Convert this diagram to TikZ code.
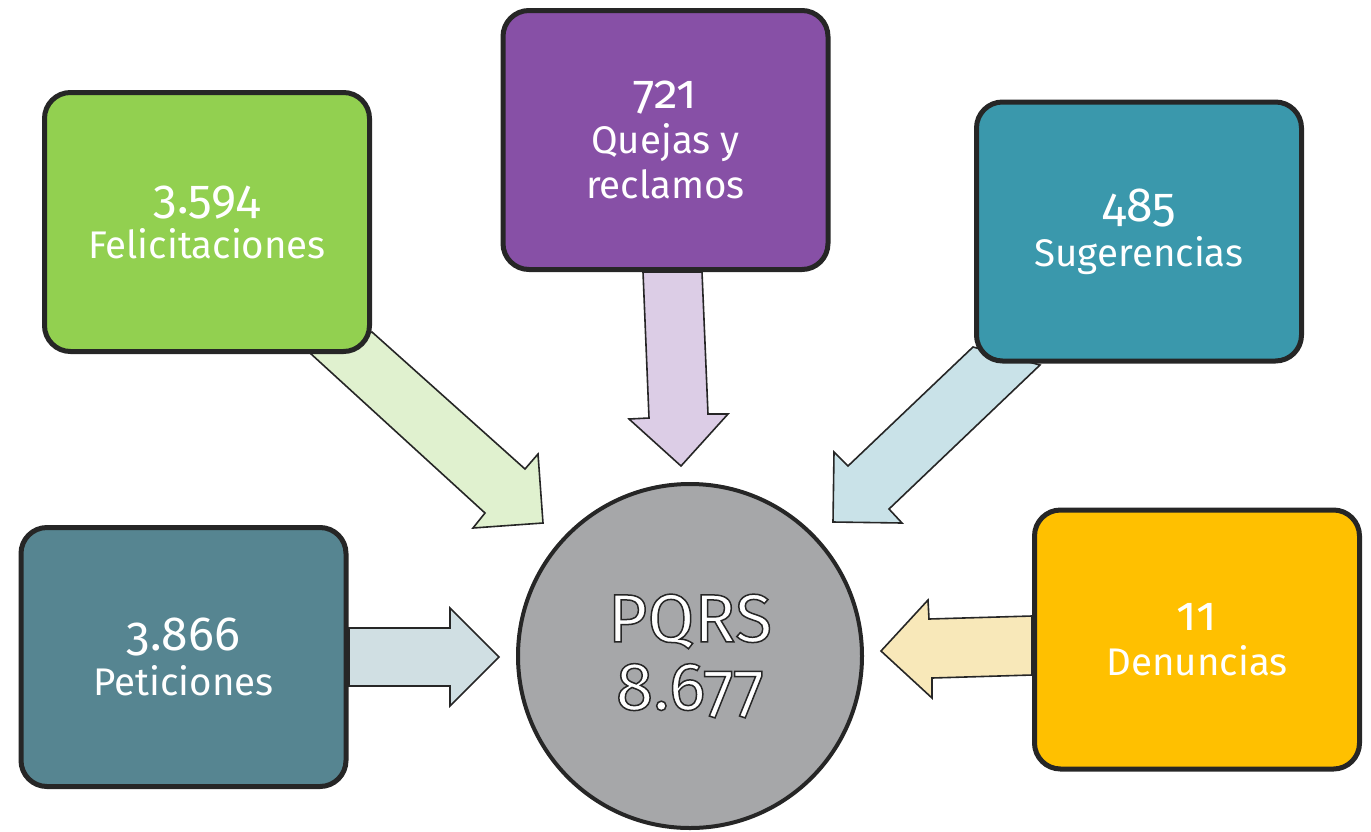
\documentclass[tikz,border=0pt]{standalone}
\usepackage{fontspec}
\setmainfont[Numbers=OldStyle]{Fira Sans}
\definecolor{bord}{HTML}{262626}
\definecolor{cgreen}{HTML}{92D050}
\definecolor{cpurple}{HTML}{8750A6}
\definecolor{cteal}{HTML}{3A98AC}
\definecolor{cslate}{HTML}{568591}
\definecolor{cyellow}{HTML}{FFC000}
\definecolor{cgrey}{HTML}{A6A7A9}
\definecolor{lgreen}{HTML}{E0F1CF}
\definecolor{lpurple}{HTML}{DCCDE6}
\definecolor{lteal}{HTML}{C9E2E8}
\definecolor{lslate}{HTML}{D0DFE3}
\definecolor{lyellow}{HTML}{F8E8B9}
\newcommand\bignum[1]{{\fontsize{48}{44}\selectfont #1}}
\newcommand\outl[1]{\special{pdf:literal direct 2 Tr 1.5 w 0.15 0.15 0.15 RG}#1\special{pdf:literal direct 0 Tr}}
\begin{document}
\begin{tikzpicture}[x=1pt,y=-1pt,
  box/.style={draw=bord, line width=5pt, rounded corners=26pt,
    minimum width=325pt, minimum height=259pt, text=white, align=center,
    font=\fontsize{38.5}{45}\selectfont, inner sep=0pt},
  hub/.style={circle, draw=bord, line width=4pt, fill=cgrey, minimum size=344pt,
    text=white, align=center, font=\fontsize{68}{74}\selectfont, inner sep=0pt},
  barrow/.style={draw=bord, line width=1.6pt, line join=miter}]
\useasboundingbox (0,0) rectangle (1371,831);
% block arrows
\draw[barrow, fill=lgreen] (372,332) -- (525,469) -- (538,454) -- (543,523) -- (473,528) -- (485,513) -- (310,353) -- cycle;
\draw[barrow, fill=lpurple] (643,272) -- (649,418) -- (629,419) -- (681,466) -- (728,414) -- (708,414) -- (702,272) -- cycle;
\draw[barrow, fill=lteal] (973,347) -- (848,466) -- (834,452) -- (833,522) -- (902,523) -- (889,509) -- (1040,365) -- cycle;
\draw[barrow, fill=lslate] (349,628) -- (450,628) -- (450,608) -- (499,657) -- (450,706) -- (450,686) -- (349,686) -- cycle;
\draw[barrow, fill=lyellow] (1032,616) -- (929,619) -- (928,600) -- (881,651) -- (932,698) -- (932,678) -- (1032,675) -- cycle;
% boxes
\node[box, fill=cgreen] (fel) at (207,222) {\bignum{3.594}\\Felicitaciones};
\node[box, fill=cpurple] (que) at (665.5,140) {\bignum{721}\\Quejas y\\reclamos};
\node[box, fill=cteal] (sug) at (1139,231.5) {\bignum{485}\\Sugerencias};
\node[box, fill=cslate] (pet) at (183.5,657) {\bignum{3.866}\\Peticiones};
\node[box, fill=cyellow] (den) at (1197,639.5) {\bignum{11}\\Denuncias};
\node[hub] (pqrs) at (690,656) {\outl{PQRS}\\[-6pt]\outl{8.677}};
\end{tikzpicture}
\end{document}
